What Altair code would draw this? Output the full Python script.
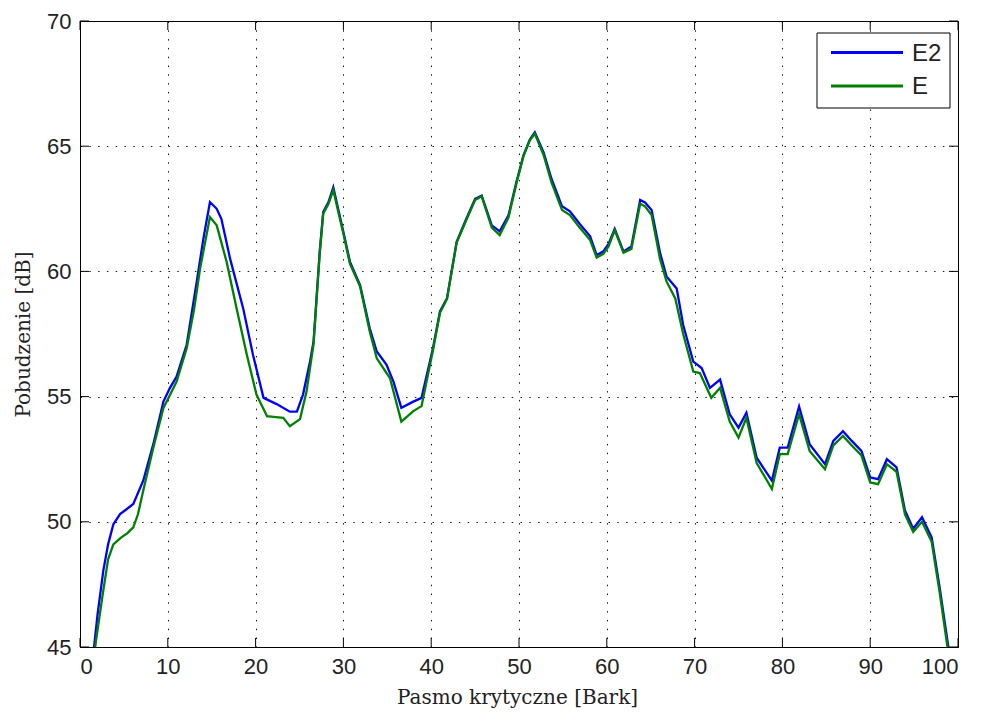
import altair as alt
import pandas as pd

# ---- data ----
x_e2 = [1.2, 1.6, 2.0, 2.66, 3.2, 3.8, 4.56, 5.3, 6.07, 7.2, 8.35, 9.5, 10.25, 11.0, 12.15, 13.3, 14.05, 14.8,
        15.57, 16.1, 17.1, 18.6, 19.7, 20.9, 22.4, 23.9, 24.7, 25.4, 26.2, 26.6, 27.3, 27.7, 28.3, 28.85, 29.4,
        30.0, 30.75, 31.9, 33.0, 33.8, 34.9, 35.7, 36.6, 37.96, 38.9, 40.2, 41.0, 41.8, 42.9, 44.0, 45.0, 45.75,
        46.9, 47.8, 48.8, 49.7, 50.5, 51.25, 51.8, 52.8, 53.7, 54.9, 55.8, 56.9, 58.1, 58.85, 59.6, 60.2, 60.9,
        61.9, 62.8, 63.8, 64.35, 65.1, 66.06, 66.8, 67.96, 68.7, 69.85, 70.8, 71.75, 72.9, 74.0, 75.0, 75.9,
        77.07, 78.8, 79.7, 80.6, 81.9, 83.1, 84.85, 85.8, 86.9, 87.9, 89.0, 90.0, 90.9, 91.9, 93.0, 93.96, 94.9,
        95.9, 97.0, 97.9, 98.9, 99.3]
y_e2 = [43.8, 45.0, 46.3, 48.06, 49.1, 49.9, 50.31, 50.5, 50.71, 51.64, 53.1, 54.8, 55.35, 55.8, 57.07, 59.6, 61.3,
        62.77, 62.5, 62.1, 60.5, 58.5, 56.67, 54.95, 54.7, 54.4, 54.4, 55.08, 56.4, 57.2, 60.78, 62.37, 62.77, 63.36,
        62.5, 61.57, 60.38, 59.45, 57.73, 56.8, 56.28, 55.6, 54.55, 54.8, 54.95, 56.93, 58.4, 58.93, 61.18, 62.1,
        62.9, 63.03, 61.84, 61.6, 62.24, 63.56, 64.62, 65.28, 65.55, 64.75, 63.7, 62.6, 62.4, 61.9, 61.4, 60.65,
        60.8, 61.1, 61.7, 60.8, 61.0, 62.85, 62.75, 62.45, 60.75, 59.8, 59.32, 57.86, 56.4, 56.14, 55.35, 55.68,
        54.29, 53.76, 54.35, 52.56, 51.64, 52.96, 52.96, 54.6, 53.1, 52.3, 53.23, 53.62, 53.23, 52.83, 51.77, 51.7,
        52.5, 52.17, 50.45, 49.72, 50.18, 49.38, 47.4, 45.0, 44.0]

x_e = [1.4, 1.8, 2.66, 3.2, 3.8, 4.6, 5.4, 6.07, 6.6, 7.2, 8.35, 9.5, 10.3, 11.0, 12.15, 13.0, 13.67, 14.8, 15.57,
       16.7, 17.85, 19.0, 20.1, 21.3, 22.3, 23.15, 23.9, 25.06, 25.8, 26.6, 27.3, 27.7, 28.3, 28.85, 29.4, 30.0,
       30.75, 31.9, 33.0, 33.8, 35.3, 36.6, 37.96, 38.9, 40.2, 41.0, 41.8, 42.9, 44.0, 45.0, 45.75, 46.9, 47.8,
       48.8, 49.7, 50.5, 51.25, 51.8, 52.8, 53.7, 54.9, 55.8, 56.9, 58.1, 58.85, 59.6, 60.2, 60.9, 61.9, 62.8,
       63.8, 64.35, 65.1, 66.06, 66.8, 67.8, 68.7, 69.85, 70.6, 71.9, 72.9, 74.0, 75.0, 75.9, 77.07, 78.8, 79.7,
       80.6, 81.9, 83.1, 84.85, 85.8, 86.9, 87.9, 89.0, 90.0, 90.9, 91.9, 93.0, 93.96, 94.9, 95.9, 97.0, 97.9,
       98.8, 99.2]
y_e = [44.0, 45.2, 47.27, 48.5, 49.1, 49.35, 49.55, 49.78, 50.3, 51.24, 52.96, 54.55, 55.1, 55.6, 56.93, 58.5, 60.1,
       62.17, 61.84, 60.38, 58.5, 56.67, 55.08, 54.22, 54.18, 54.15, 53.82, 54.1, 55.2, 57.1, 60.7, 62.3, 62.7,
       63.25, 62.4, 61.5, 60.3, 59.4, 57.6, 56.53, 55.74, 54.0, 54.42, 54.62, 56.85, 58.35, 58.9, 61.15, 62.05,
       62.85, 63.0, 61.75, 61.45, 62.15, 63.5, 64.6, 65.25, 65.5, 64.65, 63.55, 62.45, 62.25, 61.75, 61.25, 60.55,
       60.7, 61.0, 61.65, 60.75, 60.9, 62.7, 62.6, 62.25, 60.5, 59.6, 58.92, 57.5, 56.0, 55.94, 54.95, 55.35, 54.0,
       53.36, 54.15, 52.35, 51.31, 52.7, 52.7, 54.3, 52.83, 52.1, 53.05, 53.43, 53.05, 52.65, 51.57, 51.5, 52.3,
       52.0, 50.3, 49.6, 50.0, 49.2, 47.2, 45.0, 44.0]

series_names = ["E2", "E"]
series_colors = ["#0000ff", "#008000"]
x_ticks = [0, 10, 20, 30, 40, 50, 60, 70, 80, 90, 100]
y_ticks = [45, 50, 55, 60, 65, 70]

# ---- layout / style ----
W, H = 878, 626
TICK = 9
NUM_FONT = "Liberation Sans"
TITLE_FONT = "DejaVu Serif"

df_e2 = pd.DataFrame({"x": x_e2, "y": y_e2, "s": series_names[0]})
df_e = pd.DataFrame({"x": x_e, "y": y_e, "s": series_names[1]})
df_xt = pd.DataFrame({"x": x_ticks})
df_yt = pd.DataFrame({"y": y_ticks})

xscale = alt.Scale(domain=[0, 100], nice=False, zero=False)
yscale = alt.Scale(domain=[45, 70], nice=False, zero=False)

xaxis = alt.Axis(values=x_ticks, title="Pasmo krytyczne [Bark]", grid=True, ticks=False,
                 labelPadding=9, titleX=437, titleY=56, titleBaseline="alphabetic", titleAnchor="middle")
yaxis = alt.Axis(values=y_ticks, title="Pobudzenie [dB]", grid=True, ticks=False,
                 labelPadding=9, titleX=-51, titleY=H / 2, titleBaseline="alphabetic", titleAngle=-90,
                 titleAlign="center")

base_enc = dict(
    x=alt.X("x:Q", scale=xscale, axis=xaxis),
    y=alt.Y("y:Q", scale=yscale, axis=yaxis),
)

line_e2 = alt.Chart(df_e2).mark_line(clip=True, strokeWidth=2.3, color=series_colors[0]).encode(**base_enc)
line_e = alt.Chart(df_e).mark_line(clip=True, strokeWidth=2.3, color=series_colors[1]).encode(
    x=alt.X("x:Q", scale=xscale), y=alt.Y("y:Q", scale=yscale))

tick_style = dict(color="black", strokeWidth=1)
t_bottom = alt.Chart(df_xt).mark_rule(**tick_style).encode(x=alt.X("x:Q", scale=xscale), y=alt.value(H), y2=alt.value(H - TICK))
t_top = alt.Chart(df_xt).mark_rule(**tick_style).encode(x=alt.X("x:Q", scale=xscale), y=alt.value(0), y2=alt.value(TICK))
t_left = alt.Chart(df_yt).mark_rule(**tick_style).encode(y=alt.Y("y:Q", scale=yscale), x=alt.value(0), x2=alt.value(TICK))
t_right = alt.Chart(df_yt).mark_rule(**tick_style).encode(y=alt.Y("y:Q", scale=yscale), x=alt.value(W), x2=alt.value(W - TICK))

# ---- manual legend (MATLAB style box) ----
LX0, LX1, LY0, LY1 = 737, 870, 12, 87
legend_layers = [
    alt.Chart(pd.DataFrame({"a": [0]})).mark_rect(fill="white", stroke="black", strokeWidth=1).encode(
        x=alt.value(LX0), x2=alt.value(LX1), y=alt.value(LY0), y2=alt.value(LY1))
]
for i, (name, col) in enumerate(zip(series_names, series_colors)):
    yy = 31.5 + i * 33.5
    d = pd.DataFrame({"label": [name]})
    legend_layers.append(alt.Chart(d).mark_rule(color=col, strokeWidth=3).encode(
        x=alt.value(751), x2=alt.value(823), y=alt.value(yy)))
    legend_layers.append(alt.Chart(d).mark_text(align="left", baseline="middle", font=NUM_FONT, fontSize=24,
                                                color="#222222").encode(
        text="label:N", x=alt.value(832), y=alt.value(yy + 1)))

chart = alt.layer(line_e2, line_e, t_bottom, t_top, t_left, t_right, *legend_layers).properties(
    width=W, height=H,
    autosize=alt.AutoSizeParams(type="none"),
    padding={"left": 72, "top": 13, "right": 15, "bottom": 63},
    background="white",
).configure_view(stroke="black", strokeWidth=1).configure_axis(
    domain=False,
    gridColor="black", gridDash=[1.5, 7.3], gridWidth=1, gridOpacity=0.9,
    labelFont=NUM_FONT, labelFontSize=22, labelColor="#222222",
    titleFont=TITLE_FONT, titleFontSize=20, titleFontWeight="normal", titleColor="#222222",
)

chart.save("out.html", embed_options={"renderer": "svg", "actions": False})
